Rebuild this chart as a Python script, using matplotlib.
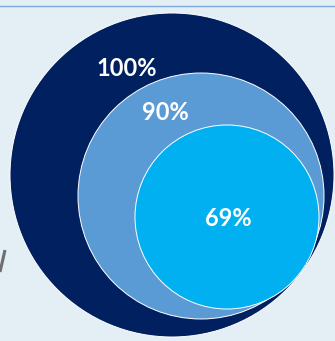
import matplotlib.pyplot as plt
from matplotlib.patches import Circle

# data
labels = ['100%', '90%', '69%']
values = [100, 90, 69]
colors = ['#002060', '#5b9bd5', '#00b0f0']

# layout (pixel coords of the original picture)
centers = [(172, 175), (201, 196), (227, 217)]
radii = [162, 123, 92]
label_pos = [(127, 68), (165, 112), (228, 218)]

fig = plt.figure(figsize=(3.35, 3.41), dpi=100)
fig.patch.set_facecolor('#e4eef5')
ax = fig.add_axes([0, 0, 1, 1])
ax.set_facecolor('#e4eef5')
ax.set_xlim(0, 335)
ax.set_ylim(341, 0)
ax.set_aspect('equal')
ax.axis('off')

# thin line at the top
ax.plot([0, 335], [5.5, 5.5], color='#7ba7d9', lw=1)
# bit of grey stroke cut off on the left
ax.plot([0, 5], [272, 250], color='#6e6e6e', lw=2.2, solid_capstyle='butt')

for (cx, cy), r, c in zip(centers, radii, colors):
    ax.add_patch(Circle((cx, cy), r, facecolor=c, edgecolor='white', lw=0.7))

for lab, v, (x, y) in zip(labels, values, label_pos):
    ax.text(x, y, lab, color='white', fontsize=17, fontweight='bold',
            family=['Lato', 'DejaVu Sans'], ha='center', va='center')

fig.savefig('out.png', dpi=100, facecolor=fig.get_facecolor())
